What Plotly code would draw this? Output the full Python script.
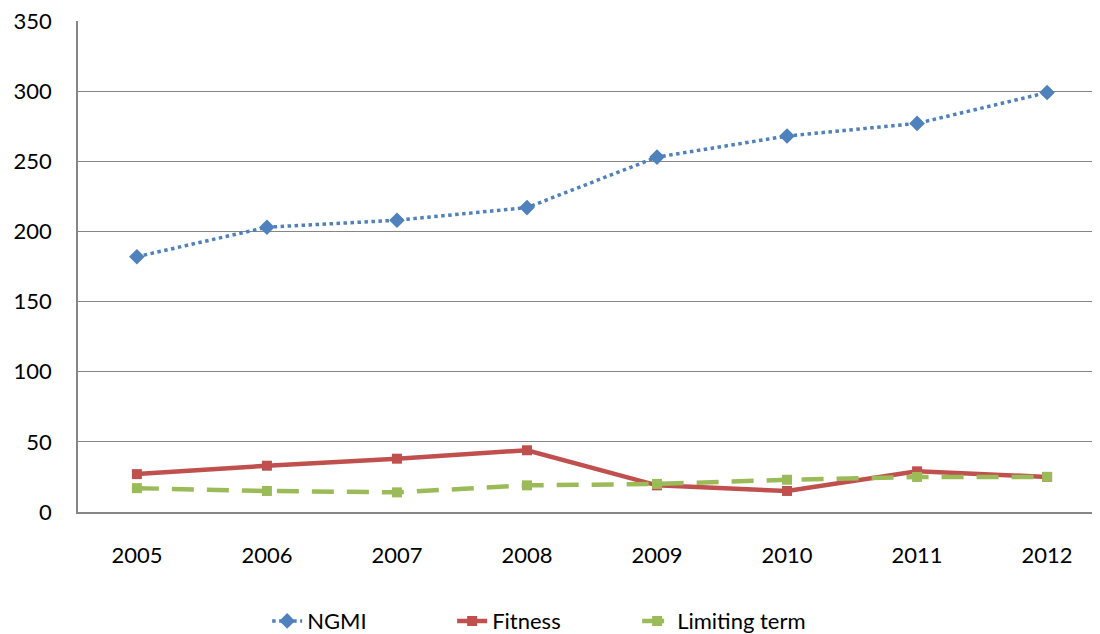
import plotly.graph_objects as go

years = ["2005", "2006", "2007", "2008", "2009", "2010", "2011", "2012"]
ngmi = [182, 203, 208, 217, 253, 268, 277, 299]
fitness = [27, 33, 38, 44, 19, 15, 29, 25]
limiting = [17, 15, 14, 19, 20, 23, 25, 25]
y_ticks = [0, 50, 100, 150, 200, 250, 300, 350]

fig = go.Figure()
fig.add_trace(go.Scatter(
    x=years, y=ngmi, name="NGMI", mode="lines+markers",
    line=dict(color="#4F81BD", width=3.5, dash="dot"),
    marker=dict(symbol="diamond", size=12, color="#4F81BD"),
))
fig.add_trace(go.Scatter(
    x=years, y=fitness, name="Fitness", mode="lines+markers",
    line=dict(color="#C0504D", width=4.5),
    marker=dict(symbol="square", size=10, color="#C0504D"),
))
fig.add_trace(go.Scatter(
    x=years, y=limiting, name="Limiting term", mode="lines+markers",
    line=dict(color="#9BBB59", width=4.5, dash="22px,13px"),
    marker=dict(symbol="square", size=10, color="#9BBB59"),
))

fig.update_layout(
    width=1100, height=634,
    margin=dict(l=70, r=2, t=13, b=130),
    paper_bgcolor="white", plot_bgcolor="white",
    font=dict(family="Lato, Carlito, Calibri, sans-serif", size=22, color="#000000"),
    showlegend=True,
    legend=dict(orientation="h", x=0.184, xanchor="left", yref="container", y=0.033,
                yanchor="middle", font=dict(size=22), entrywidth=140,
                entrywidthmode="pixels", tracegroupgap=0),
    xaxis=dict(
        type="category", showgrid=False, showline=True, linecolor="#868686", linewidth=1.5,
        ticks="", ticklabelstandoff=23, zeroline=False, automargin=False,
    ),
    yaxis=dict(
        range=[0, 350], tickvals=y_ticks, showgrid=True, gridcolor="#868686", gridwidth=1.2,
        showline=True, linecolor="#868686", linewidth=1.5, ticks="", ticklabelstandoff=20,
        zeroline=False, automargin=False, ticklabeloverflow="allow",
    ),
)

fig.write_html("out.html")
